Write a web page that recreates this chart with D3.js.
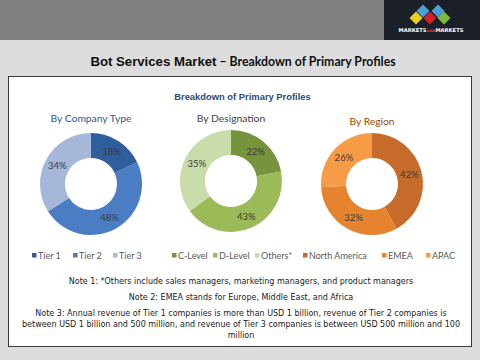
<!DOCTYPE html>
<html><head><meta charset="utf-8">
<script src="https://cdn.jsdelivr.net/npm/d3@7/dist/d3.min.js"></script>
<style>html,body{margin:0;padding:0;background:#dddddd;}svg{display:block;}</style>
</head><body>
<script>
const companyTypes = ["Tier 1", "Tier 2", "Tier 3"];
const companyValues = [18, 48, 34];
const designations = ["C-Level", "D-Level", "Others*"];
const designationValues = [22, 43, 35];
const regions = ["North America", "EMEA", "APAC"];
const regionValues = [42, 32, 26];
const notes = [
  "Note 1: *Others include sales managers, marketing managers, and product managers",
  "Note 2: EMEA stands for Europe, Middle East, and Africa",
  "Note 3: Annual revenue of Tier 1 companies is more than USD 1 billion, revenue of Tier 2 companies is",
  "between USD 1 billion and 500 million, and revenue of Tier 3 companies is between USD 500 million and 100",
  "million"
];

const W = 480, H = 360;
const svg = d3.select("body").append("svg").attr("width", W).attr("height", H);
svg.append("rect").attr("width", W).attr("height", H).attr("fill", "#dddddd");
svg.append("rect").attr("width", W).attr("height", 40).attr("fill", "#808080");

// logo
const logo = svg.append("g");
logo.append("rect").attr("x", 384).attr("y", 0).attr("width", 96).attr("height", 40).attr("fill", "#1b1f27");
const dia = [[423,11,"#4a9fd8"],[438,11,"#4a9fd8"],[416,18,"#e8d21d"],[430,18,"#d42027"],[444,18,"#7dbb3b"]];
dia.forEach(([cx,cy,c]) => {
  const s = 6.5;
  logo.append("path").attr("d", `M${cx},${cy-s}L${cx+s},${cy}L${cx},${cy+s}L${cx-s},${cy}Z`).attr("fill", c);
});
const lt = logo.append("text").attr("x", 431).attr("y", 32).attr("text-anchor", "middle")
  .attr("font-family", "DejaVu Sans").attr("font-weight", "bold").attr("font-size", 5.2).attr("fill", "#ffffff");
lt.append("tspan").text("MARKETS");
lt.append("tspan").attr("font-size", 3.6).attr("fill", "#e04040").text("AND");
lt.append("tspan").text("MARKETS");

// title
const t = svg.append("text").attr("x", 243).attr("y", 66).attr("text-anchor", "middle").attr("fill", "#111");
t.append("tspan").attr("font-family", "Liberation Sans").attr("font-weight", "bold").attr("font-size", 13.2).text("Bot Services Market");
t.append("tspan").attr("font-family", "Lato").attr("font-weight", "bold").attr("font-size", 12.3).text(" \u2013 Breakdown of Primary Profiles");

// white box
svg.append("rect").attr("x", 8.5).attr("y", 76.5).attr("width", 463).attr("height", 270)
  .attr("fill", "#ffffff").attr("stroke", "#3a3a3a").attr("stroke-width", 1);

svg.append("text").attr("x", 242.5).attr("y", 100).attr("text-anchor", "middle")
  .attr("font-family", "Liberation Sans").attr("font-weight", "bold").attr("font-size", 9.4)
  .attr("fill", "#2c4a7a").text("Breakdown of Primary Profiles");

const charts = [
  {title: "By Company Type", tcol: "#2e5b92", ty: 122, cx: 91, cy: 184, cats: companyTypes, vals: companyValues,
   colors: ["#2f5e9c", "#4b7dc4", "#a6b8d9"], legX: [32, 73, 113]},
  {title: "By Designation", tcol: "#3f3f3f", ty: 122, cx: 231, cy: 181, cats: designations, vals: designationValues,
   colors: ["#77933c", "#9bbb59", "#c9dcaa"], legX: [172, 213, 255]},
  {title: "By Region", tcol: "#984807", ty: 125, cx: 372, cy: 184, cats: regions, vals: regionValues,
   colors: ["#c76b2b", "#e5832f", "#f79b47"], legX: [303, 382, 426]}
];

const pie = d3.pie().sort(null).value(d => d);
const arc = d3.arc().innerRadius(26).outerRadius(51);
const labelArc = d3.arc().innerRadius(38.5).outerRadius(38.5);

charts.forEach(ch => {
  svg.append("text").attr("x", ch.cx).attr("y", ch.ty).attr("text-anchor", "middle")
    .attr("font-family", "Lato").attr("font-size", 10.3).attr("fill", ch.tcol).text(ch.title);
  const g = svg.append("g").attr("transform", `translate(${ch.cx},${ch.cy})`);
  const arcs = pie(ch.vals);
  g.selectAll("path").data(arcs).join("path").attr("d", arc).attr("fill", (d, i) => ch.colors[i]);
  g.selectAll("text").data(arcs).join("text")
    .attr("transform", d => `translate(${labelArc.centroid(d)})`)
    .attr("text-anchor", "middle").attr("dy", "0.35em")
    .attr("font-family", "Lato").attr("font-size", 9.5).attr("fill", "#3a3a3a")
    .text(d => d.data + "%");
  const lg = svg.append("g");
  ch.cats.forEach((c, i) => {
    lg.append("rect").attr("x", ch.legX[i]).attr("y", 253).attr("width", 4.5).attr("height", 4.5).attr("fill", ch.colors[i]);
    lg.append("text").attr("x", ch.legX[i] + 6).attr("y", 258.5)
      .attr("font-family", "Lato").attr("font-size", 9).attr("fill", "#595959").text(c);
  });
});

const ny = [284, 300, 316, 327, 338];
notes.forEach((n, i) => {
  svg.append("text").attr("x", 241).attr("y", ny[i]).attr("text-anchor", "middle")
    .attr("font-family", "DejaVu Sans").attr("font-size", 8).attr("fill", "#222").text(n);
});
</script>
</body></html>
